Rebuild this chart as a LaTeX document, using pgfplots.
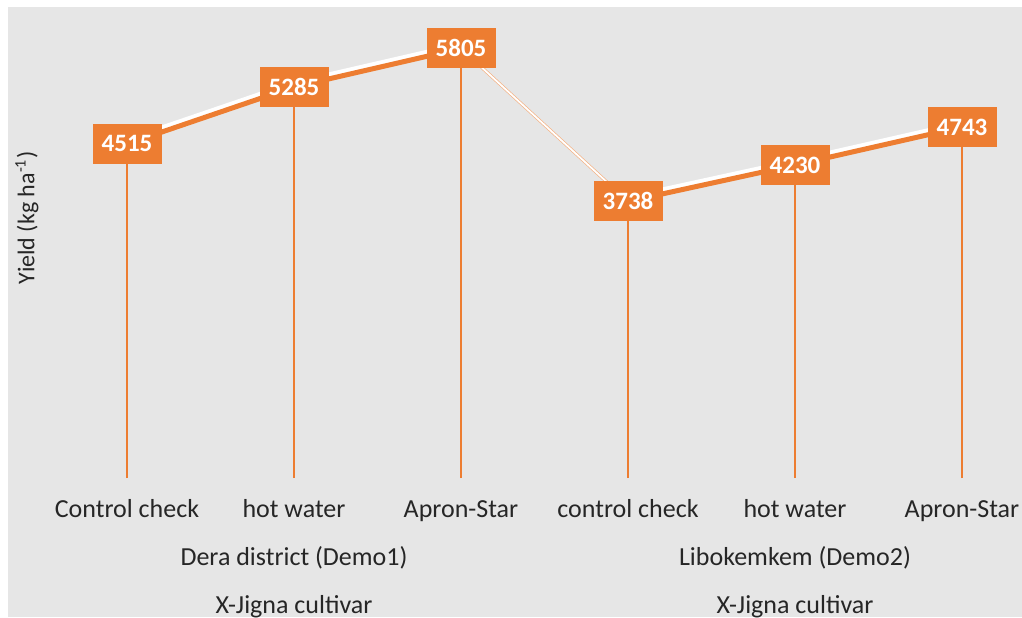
\documentclass[border=0pt]{standalone}
\usepackage{pgfplots}
\pgfplotsset{compat=1.18}
\usepackage{fontspec}
\setmainfont{Carlito}
\definecolor{xorange}{HTML}{ED7D31}
\definecolor{xpeach}{HTML}{F4B183}
\definecolor{xgray}{HTML}{E6E6E6}
\definecolor{xtext}{HTML}{262626}
\pgfplotstableread{
x y
0 4515
1 5285
2 5805
3 3738
4 4230
5 4743
}\yielddata
\pgfplotstableread{
x y
0 4515
1 5285
2 5805
}\grpA
\pgfplotstableread{
x y
3 3738
4 4230
5 4743
}\grpB
\pgfplotstableread{
x y
2 5805
3 3738
}\link
\begin{document}
\begin{tikzpicture}
\path[use as bounding box] (0pt,0pt) rectangle (511pt,-308.5pt);
\fill[white] (0pt,0pt) rectangle (511pt,-308.5pt);
\fill[xgray] (4pt,-3.5pt) rectangle (511pt,-308.5pt);
\begin{axis}[
  at={(63.5pt,-239pt)}, anchor=south west,
  scale only axis, width=417.5pt, height=222pt,
  xmin=0, xmax=5, ymin=0, ymax=6000,
  axis line style={draw=none},
  ytick=\empty,
  xtick={0,...,5},
  xticklabels={Control check, hot water, Apron-Star, control check, hot water, Apron-Star},
  major tick length=0pt,
  x tick label style={font=\fontsize{13}{15}\selectfont, text=xtext, anchor=base, yshift=-19.5pt},
  clip=false,
]
\addplot[xorange, line width=0.75pt, ycomb, no marks] table[x=x,y=y] {\yielddata};
\addplot[xpeach, line width=1.6pt, no marks] table[x=x,y=y] {\link};
\addplot[white, line width=0.9pt, no marks] table[x=x,y=y] {\link};
\addplot[white, line width=2.5pt, no marks, yshift=1.9pt, xshift=-0.4pt] table[x=x,y=y] {\grpA};
\addplot[white, line width=2.5pt, no marks, yshift=1.9pt, xshift=-0.4pt] table[x=x,y=y] {\grpB};
\addplot[xorange, line width=2.5pt, no marks] table[x=x,y=y] {\grpA};
\addplot[xorange, line width=2.5pt, no marks] table[x=x,y=y] {\grpB};
\addplot[draw=none, no marks,
  nodes near coords,
  nodes near coords style={anchor=center, fill=xorange, text=white,
    font=\fontsize{12.5}{14}\selectfont\bfseries, minimum width=34.5pt,
    minimum height=20pt, inner sep=0pt, /pgf/number format/.cd, fixed, 1000 sep={}, assume math mode=true},
] table[x=x,y=y] {\yielddata};
\node[font=\fontsize{13}{15}\selectfont, text=xtext, anchor=base, yshift=-43.5pt] at (axis cs:1,0) {Dera district (Demo1)};
\node[font=\fontsize{13}{15}\selectfont, text=xtext, anchor=base, yshift=-43.5pt] at (axis cs:4,0) {Libokemkem (Demo2)};
\node[font=\fontsize{13}{15}\selectfont, text=xtext, anchor=base, yshift=-67.5pt] at (axis cs:1,0) {X-Jigna cultivar};
\node[font=\fontsize{13}{15}\selectfont, text=xtext, anchor=base, yshift=-67.5pt] at (axis cs:4,0) {X-Jigna cultivar};
\end{axis}
\node[rotate=90, font=\fontsize{12}{14}\selectfont, text=xtext] at (13.5pt,-109pt) {Yield (kg ha\textsuperscript{-1})};
\end{tikzpicture}
\end{document}
